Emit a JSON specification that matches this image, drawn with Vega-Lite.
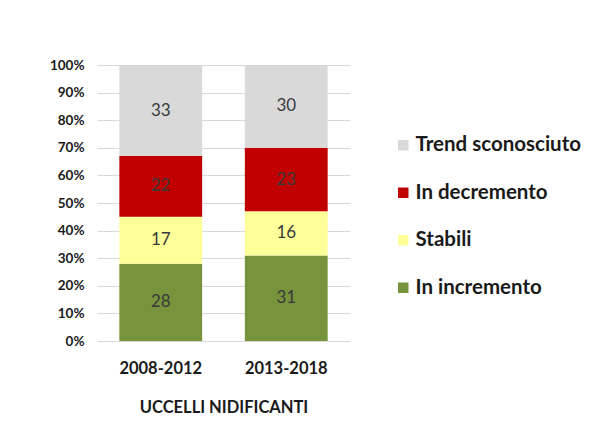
{
  "$schema": "https://vega.github.io/schema/vega-lite/v6.json",
  "width": 253,
  "height": 276,
  "autosize": {"type": "none"},
  "padding": {"left": 97, "top": 65, "right": 252, "bottom": 80},
  "background": "white",
  "data": {
    "values": [
      {"periodo": "2008-2012", "categoria": "In incremento", "ord": 1, "valore": 28},
      {"periodo": "2008-2012", "categoria": "Stabili", "ord": 2, "valore": 17},
      {"periodo": "2008-2012", "categoria": "In decremento", "ord": 3, "valore": 22},
      {"periodo": "2008-2012", "categoria": "Trend sconosciuto", "ord": 4, "valore": 33},
      {"periodo": "2013-2018", "categoria": "In incremento", "ord": 1, "valore": 31},
      {"periodo": "2013-2018", "categoria": "Stabili", "ord": 2, "valore": 16},
      {"periodo": "2013-2018", "categoria": "In decremento", "ord": 3, "valore": 23},
      {"periodo": "2013-2018", "categoria": "Trend sconosciuto", "ord": 4, "valore": 30}
    ]
  },
  "encoding": {
    "x": {
      "field": "periodo",
      "type": "nominal",
      "title": "UCCELLI NIDIFICANTI",
      "scale": {"paddingInner": 0.34, "paddingOuter": 0.178},
      "axis": {
        "labelAngle": 0,
        "domain": false,
        "ticks": false,
        "labelFont": "Lato",
        "labelFontWeight": "bold",
        "labelFontSize": 16.5,
        "labelColor": "#1a1a1a",
        "labelPadding": 19,
        "titleFont": "Lato",
        "titleFontWeight": "bold",
        "titleFontSize": 16.5,
        "titleColor": "#1a1a1a",
        "titlePadding": 23
      }
    },
    "y": {
      "field": "valore",
      "type": "quantitative",
      "stack": "normalize",
      "title": null,
      "scale": {"domain": [0, 1]},
      "axis": {
        "format": ".0%",
        "values": [0, 0.1, 0.2, 0.3, 0.4, 0.5, 0.6, 0.7, 0.8, 0.9, 1],
        "domain": false,
        "ticks": false,
        "grid": true,
        "gridColor": "#d9d9d9",
        "labelFont": "Lato",
        "labelFontWeight": "bold",
        "labelFontSize": 13.5,
        "labelColor": "#1a1a1a",
        "labelPadding": 13
      }
    },
    "order": {"field": "ord", "type": "quantitative", "sort": "ascending"}
  },
  "layer": [
    {
      "mark": {"type": "bar"},
      "encoding": {
        "color": {
          "field": "categoria",
          "type": "nominal",
          "scale": {
            "domain": ["Trend sconosciuto", "In decremento", "Stabili", "In incremento"],
            "range": ["#d9d9d9", "#c00000", "#ffff99", "#77933c"]
          },
          "legend": {
            "title": null,
            "orient": "none",
            "legendX": 296,
            "legendY": 70,
            "symbolType": "square",
            "symbolSize": 110,
            "symbolStrokeWidth": 0,
            "labelFont": "Lato",
            "labelFontWeight": "bold",
            "labelFontSize": 20.5,
            "labelColor": "#1a1a1a",
            "labelOffset": 2,
            "labelLimit": 0,
            "rowPadding": 26.5
          }
        }
      }
    },
    {
      "mark": {"type": "text", "font": "Lato", "fontSize": 17, "color": "#3a3a3a"},
      "encoding": {
        "y": {"field": "valore", "type": "quantitative", "stack": "normalize", "bandPosition": 0.5},
        "text": {"field": "valore", "type": "quantitative"}
      }
    }
  ],
  "config": {"view": {"stroke": null}}
}
